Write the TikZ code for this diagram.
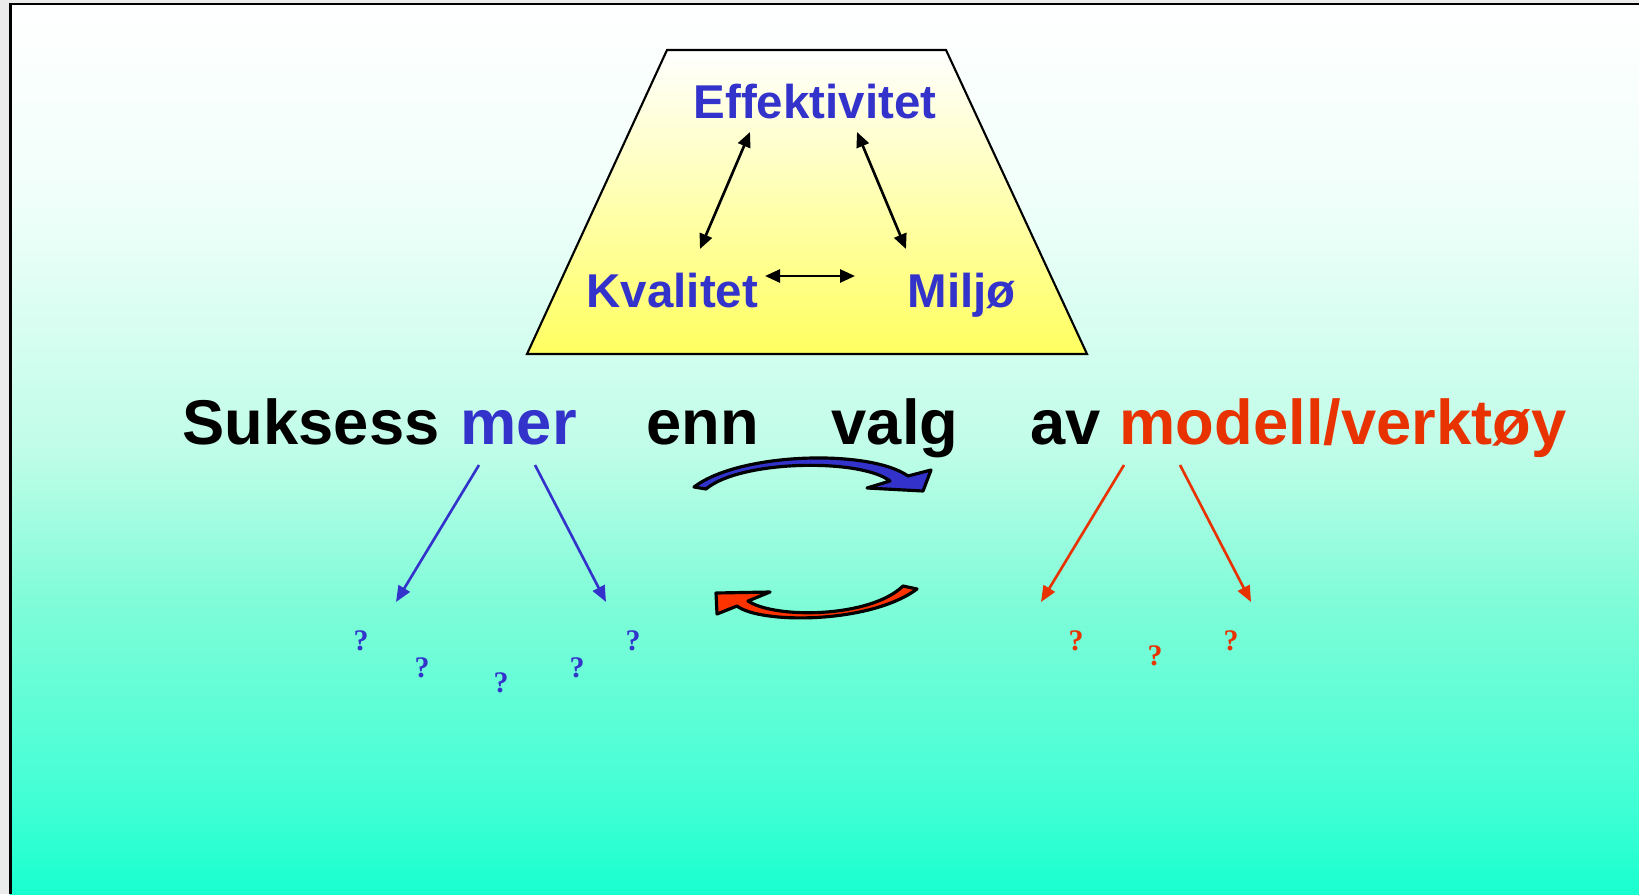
\documentclass[tikz,border=0pt]{standalone}
\usepackage{fontspec}
\setmainfont{Liberation Sans}
\newfontfamily\qfont{Liberation Serif}
\usetikzlibrary{arrows.meta}

\definecolor{slideblue}{RGB}{51,51,204}
\definecolor{slidered}{RGB}{232,50,0}
\definecolor{turnred}{RGB}{255,51,0}
\definecolor{outergray}{RGB}{235,235,235}
\definecolor{trapmid}{RGB}{255,255,214}
\definecolor{trapbot}{RGB}{255,255,96}
\definecolor{bgA}{RGB}{24,255,207}
\definecolor{bgB}{RGB}{64,255,213}
\definecolor{bgC}{RGB}{128,252,216}
\definecolor{bgD}{RGB}{192,253,232}
\definecolor{bgE}{RGB}{240,255,250}

% slide background, white at the top and sea green at the bottom
\pgfdeclareverticalshading{slidebg}{100bp}{color(0bp)=(bgA); color(25bp)=(bgA);
  color(30bp)=(bgB); color(41.5bp)=(bgC); color(50bp)=(bgD); color(64bp)=(bgE);
  color(75bp)=(white); color(100bp)=(white)}

\begin{document}
\begin{tikzpicture}[x=0.1mm, y=-0.1mm,
    word/.style={anchor=base west, inner sep=0pt, font=\fontsize{18pt}{20pt}\selectfont\bfseries},
    corner/.style={anchor=base west, inner sep=0pt, text=slideblue, font=\fontsize{13.5pt}{16pt}\selectfont\bfseries},
    twoway/.style={{Triangle[length=1.5mm,width=1.3mm]}-{Triangle[length=1.5mm,width=1.3mm]}, line width=0.75pt},
    pointer/.style={-{Triangle[length=1.6mm,width=1.3mm]}, line width=0.75pt},
    query/.style={inner sep=0pt, font=\qfont\bfseries\fontsize{8.5pt}{10pt}\selectfont},
    turn/.style={draw=black, line width=0.9pt, line join=round}]
\useasboundingbox (0,0) rectangle (1639,894);
% Draw the slide with its frame
    \fill[outergray] (0,0) rectangle (1639,894);
    \shade[shading=slidebg] (10,4) rectangle (1639,894);
    \draw[line width=0.7pt] (10.5,894) -- (10.5,4) -- (1639,4);
% Draw the trapezoid with the three goals
    \shade[top color=white, middle color=trapmid, bottom color=trapbot, draw=black, line width=0.6pt]
        (667,50) -- (946,50) -- (1087,354) -- (527,354) -- cycle;
    \node[corner] (eff) at (693,118) {Effektivitet};
    \node[corner] (kval) at (586,307) {Kvalitet};
    \node[corner] (milj) at (907,307) {Miljø};
    \coordinate (eff-l) at (750,132);
    \coordinate (eff-r) at (857,132);
    \coordinate (kval-t) at (700,249);
    \coordinate (kval-r) at (765,276);
    \coordinate (milj-t) at (906,249);
    \coordinate (milj-l) at (855,276);
    \draw[twoway] (eff-l) -- (kval-t);
    \draw[twoway] (eff-r) -- (milj-t);
    \draw[twoway] (kval-r) -- (milj-l);
% Draw the sentence
    \node[word] (suksess) at (182,444) {Suksess};
    \node[word, text=slideblue] (mer) at (460,444) {mer};
    \node[word] (enn) at (646,444) {enn};
    \node[word] (valg) at (831,444) {valg};
    \node[word] (av) at (1030,444) {av};
    \node[word, text=slidered] (modell) at (1119,444) {modell/verktøy};
% Draw the arrows down to the question marks
    \coordinate (mer-a) at (479,465);
    \coordinate (mer-b) at (535,465);
    \coordinate (modell-a) at (1124,465);
    \coordinate (modell-b) at (1180,465);
    \coordinate (blue-a) at (396,602);
    \coordinate (blue-b) at (606,602);
    \coordinate (red-a) at (1041,602);
    \coordinate (red-b) at (1251,602);
    \draw[pointer, slideblue] (mer-a) -- (blue-a);
    \draw[pointer, slideblue] (mer-b) -- (blue-b);
    \draw[pointer, slidered] (modell-a) -- (red-a);
    \draw[pointer, slidered] (modell-b) -- (red-b);
    \foreach \x/\y [count=\i] in {361/641, 422/668, 501/683, 577/668, 633/641} {
        \node[query, text=slideblue] (qb\i) at (\x,\y) {?};
    }
    \foreach \x/\y [count=\i] in {1076/641, 1155/656, 1231/641} {
        \node[query, text=slidered] (qr\i) at (\x,\y) {?};
    }
% Draw the two curved arrows
    \filldraw[turn, fill=slideblue] (694,487) .. controls (740,452) and (870,449) .. (908,476)
        -- (931,470) -- (923,491) -- (867,488) -- (890,481)
        .. controls (860,458) and (740,460) .. (706,489) -- cycle;
    \filldraw[turn, fill=turnred] (903,586) -- (917,589) .. controls (870,624) and (760,624) .. (737,606)
        -- (717,614) -- (716,593) -- (770,592) -- (748,601)
        .. controls (775,619) and (870,618) .. (903,586) -- cycle;
\end{tikzpicture}
\end{document}
